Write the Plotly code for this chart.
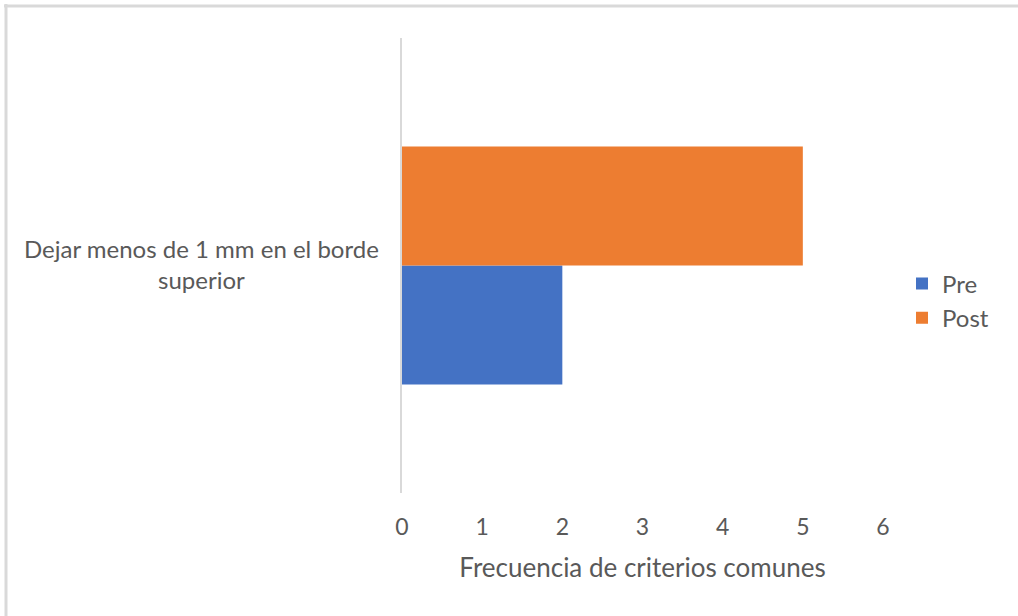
import plotly.graph_objects as go

categories = ["Dejar menos de 1 mm en el borde<br>superior"]
pre_values = [2]
post_values = [5]
x_ticks = [0, 1, 2, 3, 4, 5, 6]
x_title = "Frecuencia de criterios comunes"

FONT = "Lato, Calibri, Carlito, sans-serif"
GRAY = "#595959"

fig = go.Figure()
fig.add_trace(go.Bar(y=categories, x=pre_values, name="Pre", orientation="h",
                     marker=dict(color="#4472C4", line=dict(width=0))))
fig.add_trace(go.Bar(y=categories, x=post_values, name="Post", orientation="h",
                     marker=dict(color="#ED7D31", line=dict(width=0))))

L, R, T, B = 402, 135, 38, 123
W, H = 1018, 616
pw, ph = W - L - R, H - T - B

def px_x(p):
    return (p - L) / pw

def px_y(p):
    return (H - B - p) / ph

fig.update_layout(
    width=W, height=H,
    margin=dict(l=L, r=R, t=T, b=B),
    paper_bgcolor="white", plot_bgcolor="white",
    barmode="group", bargap=0.477, bargroupgap=0,
    font=dict(family=FONT, color=GRAY, size=22),
    showlegend=True,
    legend=dict(x=px_x(902), y=px_y(301), xanchor="left", yanchor="middle",
                font=dict(size=24, color=GRAY, family=FONT),
                traceorder="normal", itemwidth=30, tracegroupgap=0),
    xaxis=dict(range=[0, 6], tickvals=x_ticks, showgrid=False, zeroline=False,
               showline=False, ticks="", ticklabelstandoff=18,
               tickfont=dict(size=23, color=GRAY, family=FONT),
               title=dict(text=x_title, font=dict(size=26, color=GRAY, family=FONT), standoff=19)),
    yaxis=dict(showticklabels=False, showgrid=False, zeroline=False,
               showline=True, linecolor="#D9D9D9", linewidth=2, ticks=""),
    shapes=[
        dict(type="line", xref="paper", yref="paper", x0=px_x(4), x1=px_x(W + 5),
             y0=px_y(6), y1=px_y(6), line=dict(color="#D9D9D9", width=3)),
        dict(type="line", xref="paper", yref="paper", x0=px_x(6), x1=px_x(6),
             y0=px_y(4), y1=px_y(H + 5), line=dict(color="#D9D9D9", width=3)),
    ],
    annotations=[
        dict(text=categories[0], xref="paper", yref="y", x=px_x(201), y=categories[0],
             xanchor="center", yanchor="middle", showarrow=False, align="center",
             yshift=2, font=dict(size=24, color=GRAY, family=FONT)),
    ],
)

fig.write_html("out.html")
